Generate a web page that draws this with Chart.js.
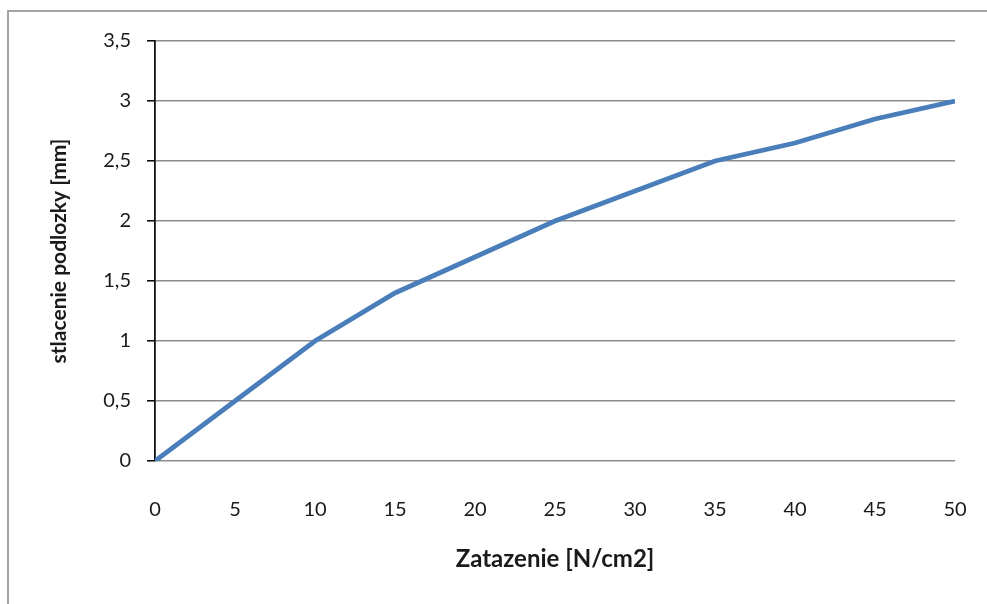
<!DOCTYPE html>
<html>
<head>
<meta charset="utf-8">
<script src="https://cdn.jsdelivr.net/npm/chart.js@4.4.1/dist/chart.umd.min.js"></script>
<style>
  html, body { margin: 0; padding: 0; background: #fff; }
  #wrap { position: relative; width: 987px; height: 604px; overflow: hidden; }
  #frame { position: absolute; left: 7px; top: 10px; width: 1200px; height: 800px;
           border-left: 2px solid #a4a4a4; border-top: 2px solid #a4a4a4; box-sizing: border-box; }
  canvas { position: absolute; left: 0; top: 0; }
</style>
</head>
<body>
<div id="wrap">
  <div id="frame"></div>
  <canvas id="c" width="987" height="604"></canvas>
</div>
<script>
// Load on the subgrade (N/cm2) and the resulting settlement (mm)
const loads = [0, 5, 10, 15, 20, 25, 30, 35, 40, 45, 50];
const settlement = [0, 0.5, 1.0, 1.4, 1.7, 2.0, 2.25, 2.5, 2.65, 2.85, 3.0];
const xTitle = 'Zatazenie [N/cm2]';
const yTitle = 'stlacenie podlozky [mm]';

const tickFont = { family: 'Lato', size: 20 };
const fmt = v => String(v).replace('.', ',');

new Chart(document.getElementById('c'), {
  type: 'line',
  data: {
    datasets: [{
      data: loads.map((x, i) => ({ x: x, y: settlement[i] })),
      borderColor: '#4a7ebb',
      borderWidth: 4.8,
      pointRadius: 0,
      tension: 0,
      fill: false
    }]
  },
  options: {
    responsive: false,
    devicePixelRatio: 1,
    animation: false,
    layout: { padding: { left: 0, right: 32, top: 41, bottom: 0 } },
    plugins: { legend: { display: false }, tooltip: { enabled: false } },
    scales: {
      x: {
        type: 'linear',
        min: 0, max: 50,
        afterFit: s => { s.height = 143; s.paddingLeft = 0; s.paddingRight = 0; },
        ticks: { stepSize: 5, font: tickFont, color: '#1a1a1a', padding: 29, maxRotation: 0, callback: v => fmt(v) },
        grid: { display: false },
        border: { display: false },
        title: { display: true, text: xTitle, font: { family: 'Lato', size: 24, weight: 'bold' },
                 color: '#1a1a1a', padding: { top: 0, bottom: 30 } }
      },
      y: {
        min: 0, max: 3.5,
        afterFit: s => { s.width = 155; },
        ticks: { stepSize: 0.5, font: tickFont, color: '#1a1a1a', padding: 16, callback: v => fmt(v) },
        grid: { color: '#8c8c8c', lineWidth: 1.6, tickLength: 8, tickColor: '#111', tickWidth: 1.6 },
        border: { display: true, color: '#111', width: 1.8 },
        title: { display: true, text: yTitle, font: { family: 'Lato', size: 21, weight: 'bold' },
                 color: '#1a1a1a', padding: { top: 47, bottom: 0 } }
      }
    }
  }
});
</script>
</body>
</html>
